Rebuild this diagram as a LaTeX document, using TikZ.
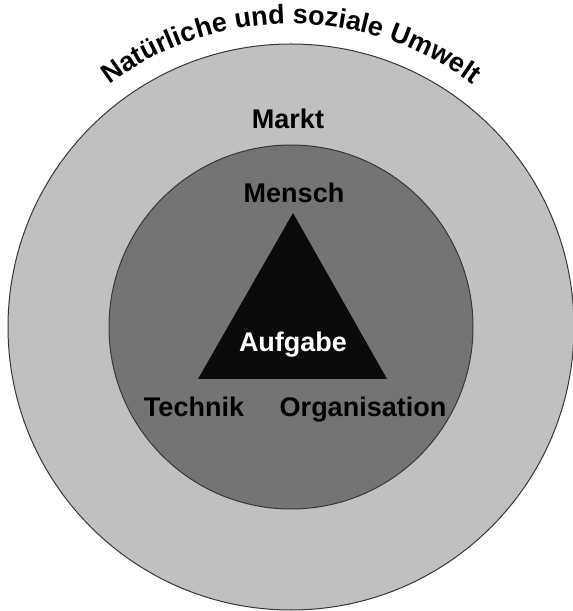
\documentclass[tikz,border=0pt]{standalone}
\usepackage{fontspec}
\setmainfont{Liberation Sans}
\usetikzlibrary{decorations.text}

\definecolor{umweltgray}{RGB}{192,192,192}
\definecolor{marktgray}{RGB}{116,116,116}
\definecolor{rimgray}{RGB}{55,55,55}
\newcommand{\lblfont}{\bfseries\fontsize{20.25}{24}\selectfont}

\tikzset{
  ring/.style={draw=rimgray, line width=0.75},
  lbl/.style={anchor=base, inner sep=0.75pt, font=\lblfont},
}

\begin{document}
\begin{tikzpicture}[x=0.75pt,y=0.75pt]
\useasboundingbox (0,0) rectangle (572,611);
\coordinate (mid) at (291,284);

%Shape: Circle [outer]
\draw [ring, fill=umweltgray] (mid) circle (283);
%Shape: Circle [inner]
\draw [ring, fill=marktgray] (mid) circle (182);
%Shape: Triangle
\fill [black!96] (293,398) -- (198,232) -- (387,232) -- cycle;

%Curved Text
\path [decorate, decoration={text along path, text align=center,
    text={|\lblfont|Natürliche und soziale Umwelt}}]
  (mid) ++(150:303) arc [start angle=150, end angle=30, radius=303];

% Text Node
\node [lbl] (markt) at (288,482) {Markt};
% Text Node
\node [lbl] (mensch) at (294,408) {Mensch};
% Text Node
\node [lbl, text=white] (aufgabe) at (293,259) {Aufgabe};
% Text Node
\node [lbl] (technik) at (194,194) {Technik};
% Text Node
\node [lbl] (organisation) at (363,194) {Organisation};

\end{tikzpicture}
\end{document}
